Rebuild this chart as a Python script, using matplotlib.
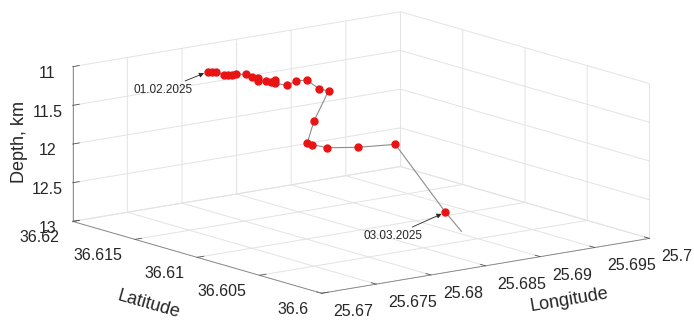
import matplotlib
matplotlib.use("Agg")
import matplotlib.pyplot as plt
import numpy as np
from matplotlib.ticker import FuncFormatter
from mpl_toolkits.mplot3d import proj3d

# daily centroid of the swarm, 01.02.2025 ... 03.03.2025
lon = [25.67838, 25.67894, 25.67965, 25.68020, 25.68067, 25.68150, 25.68228,
       25.68313, 25.68344, 25.68382, 25.68405, 25.68487, 25.68528, 25.68527,
       25.68581, 25.68678, 25.68703, 25.68740, 25.68755, 25.68804, 25.68698,
       25.68685, 25.68717, 25.68788, 25.69018, 25.69328, 25.69033, 25.69070]
lat = [36.61649, 36.61664, 36.61693, 36.61681, 36.61688, 36.61730, 36.61764,
       36.61763, 36.61740, 36.61725, 36.61743, 36.61750, 36.61752, 36.61714,
       36.61762, 36.61751, 36.61699, 36.61649, 36.61558, 36.61528, 36.61553,
       36.61595, 36.61585, 36.61525, 36.61483, 36.61452, 36.60790, 36.60565]
depth = [11.10, 11.12, 11.15, 11.20, 11.22, 11.25, 11.28, 11.30, 11.33, 11.35,
         11.40, 11.42, 11.45, 11.40, 11.48, 11.52, 11.45, 11.42, 11.50, 11.52,
         11.90, 12.20, 12.22, 12.25, 12.28, 12.30, 12.80, 13.20]
first_label = "01.02.2025"
last_label = "03.03.2025"
last_idx = 26

lon_lim = (25.67, 25.70)
lat_lim = (36.60, 36.62)
dep_lim = (13, 11)
lon_ticks = [25.67, 25.675, 25.68, 25.685, 25.69, 25.695, 25.70]
lat_ticks = [36.60, 36.605, 36.61, 36.615, 36.62]
dep_ticks = [11, 11.5, 12, 12.5, 13]

plt.rcParams['font.family'] = ['Liberation Sans', 'DejaVu Sans']
plt.rcParams['grid.color'] = '#e3e3e3'
plt.rcParams['grid.linewidth'] = 0.7
plt.rcParams['xtick.color'] = '#555555'
plt.rcParams['ytick.color'] = '#555555'
plt.rcParams['xtick.labelcolor'] = '#262626'
plt.rcParams['ytick.labelcolor'] = '#262626'

fig = plt.figure(figsize=(6.94, 3.21), dpi=100)
ax = fig.add_axes([0.0689, -0.4508, 0.879, 1.900], projection='3d')
ax.set_proj_type('ortho')
ax.view_init(elev=12.7, azim=-127.3)
ax.set_box_aspect((1, 0.997, 0.385), zoom=0.96)

ax.set_xlim(*lon_lim)
ax.set_ylim(*lat_lim)
ax.set_zlim(*dep_lim)
ax.set_xticks(lon_ticks)
ax.set_yticks(lat_ticks)
ax.set_zticks(dep_ticks)
fmt = FuncFormatter(lambda v, p: '%g' % round(v, 4))
ax.xaxis.set_major_formatter(fmt)
ax.yaxis.set_major_formatter(fmt)
ax.zaxis.set_major_formatter(fmt)

for a in (ax.xaxis, ax.yaxis, ax.zaxis):
    a.set_pane_color((1, 1, 1, 0))
    a.pane.set_edgecolor((1, 1, 1, 0))
    a.line.set_color('#808080')
    a.line.set_linewidth(0.6)
    a._axinfo['tick']['inward_factor'] = 0.0
    a._axinfo['tick']['outward_factor'] = 0.25
    a._axinfo['tick']['linewidth'][True] = 0.6
ax.tick_params(labelsize=11.5)
ax.tick_params(axis='x', pad=3)
ax.tick_params(axis='y', pad=1)
ax.tick_params(axis='z', pad=2)
for t in ax.get_xticklabels():
    t.set_ha('left')
for t in ax.get_yticklabels():
    t.set_ha('right')
    t.set_va('top')

# path clipped at the bottom of the box, like matlab does
lon_a = np.array(lon)
lat_a = np.array(lat)
dep_a = np.array(depth)
inside = dep_a <= dep_lim[0]
k = np.where(~inside)[0][0]
t = (dep_lim[0] - dep_a[k - 1]) / (dep_a[k] - dep_a[k - 1])
lx = list(lon_a[:k]) + [lon_a[k - 1] + t * (lon_a[k] - lon_a[k - 1])]
ly = list(lat_a[:k]) + [lat_a[k - 1] + t * (lat_a[k] - lat_a[k - 1])]
lz = list(dep_a[:k]) + [dep_lim[0]]
ax.plot(lx, ly, lz, color='#8c8c8c', linewidth=0.8)
ax.plot(lon_a[inside], lat_a[inside], dep_a[inside], linestyle='none',
        marker='o', markersize=5, color='#e81414', markeredgecolor='#e81414')

ax.set_zlabel('Depth, km', fontsize=13, color='#262626', labelpad=0)
# matlab puts the horizontal axis labels off-centre, so place them by hand
fig.text(0.8199, 0.0654, 'Longitude', fontsize=13, color='#262626',
         rotation=9.5, ha='center', va='center', rotation_mode='anchor')
fig.text(0.2147, 0.0498, 'Latitude', fontsize=13, color='#262626',
         rotation=-16, ha='center', va='center', rotation_mode='anchor')

M = ax.get_proj()
x0, y0, _ = proj3d.proj_transform(lon[0], lat[0], depth[0], M)
x1, y1, _ = proj3d.proj_transform(lon[last_idx], lat[last_idx], depth[last_idx], M)
arrow = dict(arrowstyle='-|>', color='#262626', lw=0.6, mutation_scale=7,
             shrinkA=0, shrinkB=3)
ax.annotate(first_label, xy=(x0, y0), xytext=(-32, -13), textcoords='offset points',
            ha='center', va='center', fontsize=8.5, color='#262626', arrowprops=arrow)
ax.annotate(last_label, xy=(x1, y1), xytext=(-38, -17), textcoords='offset points',
            ha='center', va='center', fontsize=8.5, color='#262626', arrowprops=arrow)

fig.savefig('out.png', dpi=100)
